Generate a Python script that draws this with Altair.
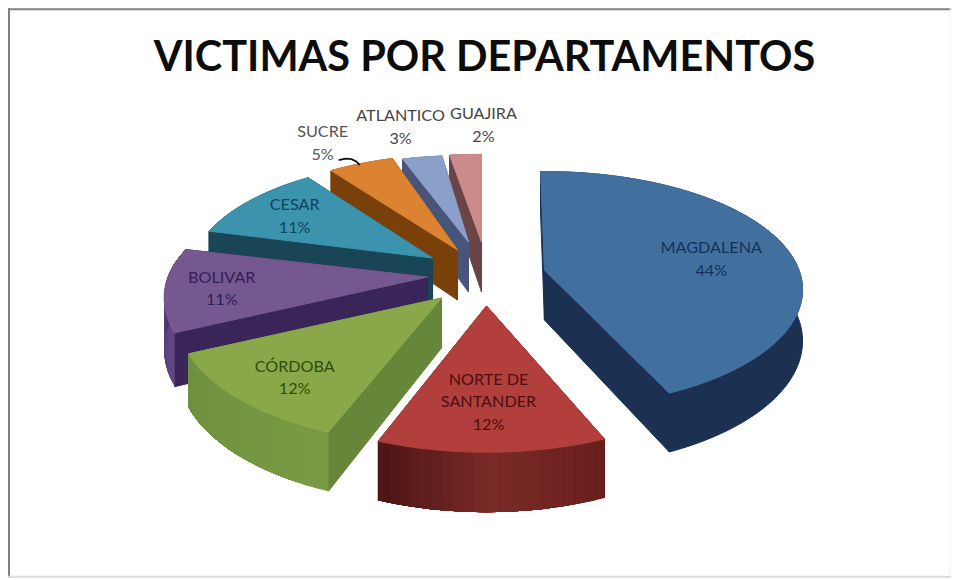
import math
import altair as alt
import pandas as pd

# --- chart values -----------------------------------------------------------
departments = ["MAGDALENA", "NORTE DE SANTANDER", "CÓRDOBA", "BOLIVAR", "CESAR", "SUCRE", "ATLANTICO", "GUAJIRA"]
percent = [44, 12, 12, 11, 11, 5, 3, 2]
title_text = "VICTIMAS POR DEPARTAMENTOS"

# --- styling / layout ---------------------------------------------------------
W, H = 944, 570
OX, OY = 8, 8   # page margin: layout numbers below are page positions
top_colors = ["#41709f", "#b23f3c", "#8aa84a", "#75588f", "#3c93ad", "#db8330", "#8b9fc9", "#cc8b8b"]
cut_colors = ["#1c3152", "#5d1a17", "#66863a", "#3a2558", "#1a4556", "#7a4009", "#48557a", "#6b4445"]
wall_colors = [
    ("#1c3152", "#1c3152", "#1c3152"),
    ("#6a1f1c", "#7a2a27", "#4e1614"),
    ("#7a9b42", "#739540", "#6f9040"),
    ("#5f4683", "#55397a", "#3a2558"),
    ("#1a4556", "#1a4556", "#1a4556"),
    ("#7a4009", "#7a4009", "#7a4009"),
    ("#48557a", "#48557a", "#48557a"),
    ("#6b4445", "#6b4445", "#6b4445"),
]
apex = [(545, 270), (487, 306), (442, 298), (428, 277), (433, 258), (458, 250), (469, 242), (482, 242)]
RX, RY, K, T = 260, 115, 1 / 6, 50
# per-slice drawing corrections for the picture's perspective
scale_x = [0.98, 1, 1, 1, 0.925, 0.94, 0.95, 1]
scale_y_back = [1, 1, 1, 1, 0.98, 0.97, 0.88, 0.89]
ry_front = [115, 122, 122, 122, 115, 115, 115, 115]
angle_off = [(-1, -3), (-1, -1), (0, 0), (0, 0), (0, 0), (0, 0), (0, 0), (-1, 0)]

label_lines = [
    (["MAGDALENA", "44%"], 712, 248, "#14305a"),
    (["NORTE DE", "SANTANDER", "12%"], 489, 380, "#4a1010"),
    (["CÓRDOBA", "12%"], 295, 367, "#2f4d08"),
    (["BOLIVAR", "11%"], 222, 278, "#33205a"),
    (["CESAR", "11%"], 295, 205, "#0b4560"),
    (["SUCRE", "5%"], 323, 132, "#555555"),
    (["ATLANTICO", "3%"], 401, 116, "#444444"),
    (["GUAJIRA", "2%"], 484, 114, "#444444"),
]


def proj(i, deg, bottom=False):
    a = apex[i]
    t = math.radians(deg)
    u, v = math.sin(t), math.cos(t)
    s = 1 / (1 + K * v)
    ry = RY * scale_y_back[i] if v >= 0 else ry_front[i]
    return [a[0] + RX * scale_x[i] * u * s - OX, a[1] - ry * v * s + (T * s if bottom else 0) - OY]


def mix(c1, c2, f):
    a = [int(c1[i:i + 2], 16) for i in (1, 3, 5)]
    b = [int(c2[i:i + 2], 16) for i in (1, 3, 5)]
    return "#%02x%02x%02x" % tuple(round(x + (y - x) * f) for x, y in zip(a, b))


def feature(points, fill, stroke=None):
    return {
        "type": "Feature",
        "properties": {"fill": fill, "line": stroke or fill},
        "geometry": {"type": "Polygon", "coordinates": [points + [points[0]]]},
    }


features = []
starts = []
acc = 0
for p in percent:
    starts.append(acc)
    acc += p * 3.6

# far slices first, near slices on top
for i in range(len(percent) - 1, -1, -1):
    a0 = starts[i] + angle_off[i][0]
    a1 = starts[i] + percent[i] * 3.6 + angle_off[i][1]
    a = apex[i]
    top_apex = [a[0] - OX, a[1] - OY]
    bot_apex = [a[0] - OX, a[1] - OY + T]
    for deg in (a0, a1):
        features.append(feature([top_apex, proj(i, deg), proj(i, deg, True), bot_apex], cut_colors[i]))
    n = max(2, int((a1 - a0) / 2))
    angles = [a0 + (a1 - a0) * j / n for j in range(n + 1)]
    c_l, c_m, c_r = wall_colors[i]
    if c_l == c_m == c_r:
        features.append(feature([proj(i, d) for d in angles] + [proj(i, d, True) for d in reversed(angles)], c_l))
    else:
        # painter's gradient: each band runs to the end of the wall, so no seams show
        for j in range(n):
            f = j / (n - 1)
            col = mix(c_l, c_m, f * 2) if f < 0.5 else mix(c_m, c_r, (f - 0.5) * 2)
            rest = angles[j:]
            features.append(feature([proj(i, d) for d in rest] + [proj(i, d, True) for d in reversed(rest)],
                                    col, "transparent"))
    features.append(feature([top_apex] + [proj(i, d) for d in angles], top_colors[i]))

slices = alt.Chart(alt.Data(values=features)).mark_geoshape(strokeWidth=1).encode(
    color=alt.Color("properties.fill:N", scale=None),
    stroke=alt.Stroke("properties.line:N", scale=None),
).project(**{"type": "identity", "scale": 1, "translate": [0, 0]})

rows = []
for lines, x, y, col in label_lines:
    for j, line in enumerate(lines):
        rows.append({"t": line, "x": x - OX, "y": y - OY + j * 22.5, "c": col})
labels = alt.Chart(pd.DataFrame(rows)).mark_text(font="Lato", fontSize=16.2, align="center", baseline="middle").encode(
    x=alt.X("x:Q", scale=None, axis=None),
    y=alt.Y("y:Q", scale=None, axis=None),
    text="t:N",
    color=alt.Color("c:N", scale=None),
)

title_mark = alt.Chart(pd.DataFrame({"t": [title_text], "x": [485 - OX], "y": [71 - OY]})).mark_text(
    font="Lato", fontSize=41.5, fontWeight="bold", color="#0d0d0d", align="center", baseline="alphabetic"
).encode(
    x=alt.X("x:Q", scale=None, axis=None),
    y=alt.Y("y:Q", scale=None, axis=None),
    text="t:N",
)

leader_df = pd.DataFrame({"x": [339 - OX, 346 - OX, 352 - OX, 357 - OX, 360 - OX],
                          "y": [160 - OY, 158.5 - OY, 159 - OY, 161.5 - OY, 165 - OY], "o": range(5)})
leader = alt.Chart(leader_df).mark_line(color="#111111", strokeWidth=1.8).encode(
    x=alt.X("x:Q", scale=None, axis=None),
    y=alt.Y("y:Q", scale=None, axis=None),
    order="o:Q",
)

# picture frame: dark on the top and left, very faint on the right and bottom
frame_df = pd.DataFrame({
    "x": [0, 1, W - 1, 0],
    "y": [1, 0, 0, H - 1],
    "x2": [W, 1, W - 1, W],
    "y2": [1, H, H, H - 1],
    "c": ["#808080", "#808080", "#f1f1f1", "#dddddd"],
    "w": [2, 2, 1, 2],
})
frame = alt.Chart(frame_df).mark_rule().encode(
    x=alt.X("x:Q", scale=None, axis=None),
    y=alt.Y("y:Q", scale=None, axis=None),
    x2="x2:Q",
    y2="y2:Q",
    color=alt.Color("c:N", scale=None),
    strokeWidth=alt.StrokeWidth("w:Q", scale=None),
)

chart = alt.layer(frame, slices, leader, labels, title_mark).properties(
    width=W,
    height=H,
    padding=0,
    autosize="none",
    background="white",
).configure_view(stroke=None)

chart.save("out.html", embed_options={"renderer": "svg", "actions": False})
